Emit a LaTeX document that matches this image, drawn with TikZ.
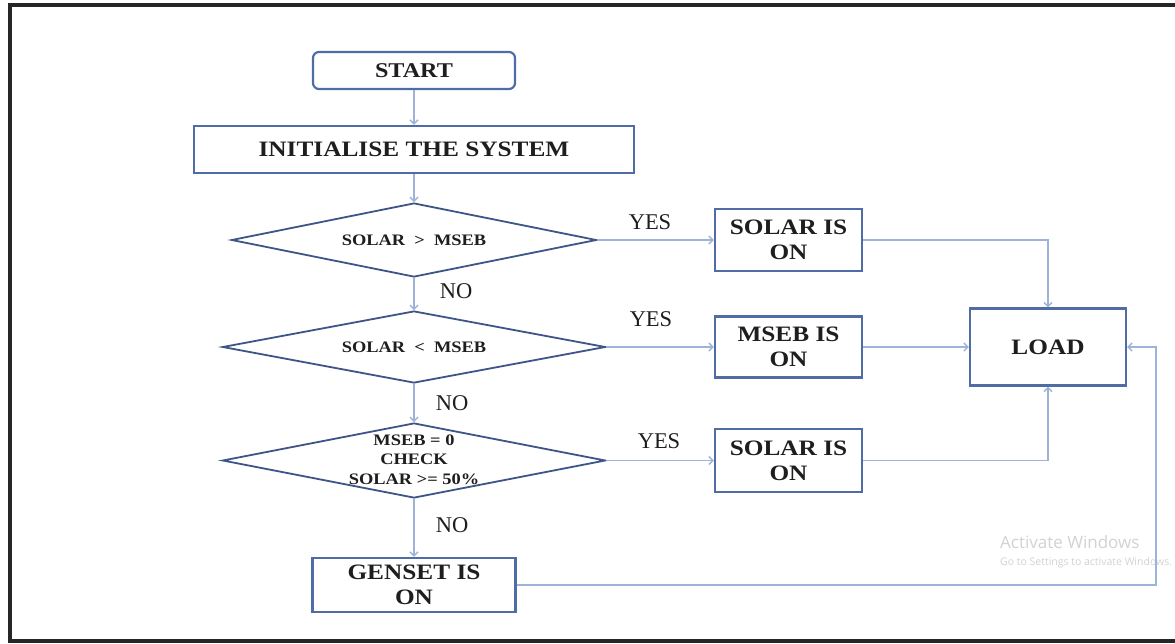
\documentclass[tikz,border=0pt]{standalone}
\usepackage{fontspec}
\setmainfont{Liberation Serif}
\newfontfamily\boxfont[FakeStretch=1.15]{Liberation Serif}
\newfontfamily\wmfont{Open Sans}
\usetikzlibrary{shapes.geometric,arrows.meta}
\definecolor{boxblue}{HTML}{4F6CA6}
\definecolor{diablue}{HTML}{3E5588}
\definecolor{arrblue}{HTML}{9DB3D8}
\definecolor{txt}{HTML}{1E1E1E}
\definecolor{wm}{HTML}{D2D2D2}
\tikzset{
  procbox/.style={draw=boxblue, line width=2.2pt, fill=white, inner sep=0pt, text=txt,
    font=\boxfont\bfseries\fontsize{22}{25}\selectfont, align=center},
  dia/.style={diamond, draw=diablue, line width=1.8pt, inner sep=0pt, fill=white},
  diatext/.style={text=txt, inner sep=0pt, align=center,
    font=\boxfont\bfseries\fontsize{16}{18}\selectfont},
  flow/.style={draw=arrblue, line width=1.4pt, -{Straight Barb[length=4pt,width=8pt]}},
  lbl/.style={text=txt, inner sep=0pt, font=\fontsize{22.5}{25}\selectfont},
  wmtext/.style={text=wm, inner sep=0pt, anchor=west},
}
\begin{document}
\begin{tikzpicture}[x=1pt,y=-1pt]
\useasboundingbox (0,0) rectangle (1175,643);
\clip (0,0) rectangle (1175,643);
\fill[white] (0,0) rectangle (1175,643);
% outer frame
\draw[line width=3.5pt, black!85] (1180,5) -- (10,5) -- (10,641) -- (1180,641);

% watermark (behind the drawing)
\node[wmtext, font=\wmfont\fontsize{17}{20}\selectfont] (wm1) at (1000,542) {Activate Windows};
\node[wmtext, font=\wmfont\fontsize{10.5}{13}\selectfont] (wm2) at (1000,563) {Go to Settings to activate Windows.};

% nodes
\node[procbox, rounded corners=6pt, minimum width=202pt, minimum height=37pt,
  font=\boxfont\bfseries\fontsize{21}{24}\selectfont] (start) at (414,70.5) {START};
\node[procbox, minimum width=440pt, minimum height=47pt] (init) at (414,149.5) {INITIALISE THE SYSTEM};
\node[dia, minimum width=365pt, minimum height=74pt] (d1) at (414,240) {};
\node[diatext] (d1t) at (414,240) {SOLAR\ \ >\ \ MSEB};
\node[dia, minimum width=383pt, minimum height=72pt] (d2) at (414,347) {};
\node[diatext] (d2t) at (414,347) {SOLAR\ \ <\ \ MSEB};
\node[dia, minimum width=383pt, minimum height=75pt] (d3) at (414,460.5) {};
\node[diatext, font=\boxfont\bfseries\fontsize{16}{19.5}\selectfont] (d3t) at (414,459.5) {MSEB = 0\\CHECK\\SOLAR >= 50\%};
\node[procbox, minimum width=203pt, minimum height=54pt] (gen) at (414,585) {GENSET IS\\ON};
\node[procbox, minimum width=147pt, minimum height=62pt] (s1) at (788.5,240) {SOLAR IS\\ON};
\node[procbox, minimum width=147pt, minimum height=61pt] (ms) at (788.5,347) {MSEB IS\\ON};
\node[procbox, minimum width=147pt, minimum height=63pt] (s3) at (788.5,460.5) {SOLAR IS\\ON};
\node[procbox, minimum width=156pt, minimum height=77pt] (load) at (1048,347) {LOAD};

% labels
\node[lbl] (y1) at (650,222) {YES};
\node[lbl] (y2) at (651,319) {YES};
\node[lbl] (y3) at (659,441) {YES};
\node[lbl] (n1) at (456,291) {NO};
\node[lbl] (n2) at (452,403) {NO};
\node[lbl] (n3) at (452,525) {NO};

% connectors
\draw[flow] (start) -- (init);
\draw[flow] (init) -- (d1);
\draw[flow] (d1) -- (d2);
\draw[flow] (d2) -- (d3);
\draw[flow] (d3) -- (gen);
\draw[flow] (d1.east) -- (s1);
\draw[flow] (d2.east) -- (ms);
\draw[flow] (d3.east) -- (s3);
\draw[flow] (s1) -| (load);
\draw[flow] (ms) -- (load);
\draw[flow] (s3) -| (load);
\coordinate (fb) at (1156,585);
\draw[flow] (gen) -- (fb) |- (load);
\end{tikzpicture}
\end{document}
